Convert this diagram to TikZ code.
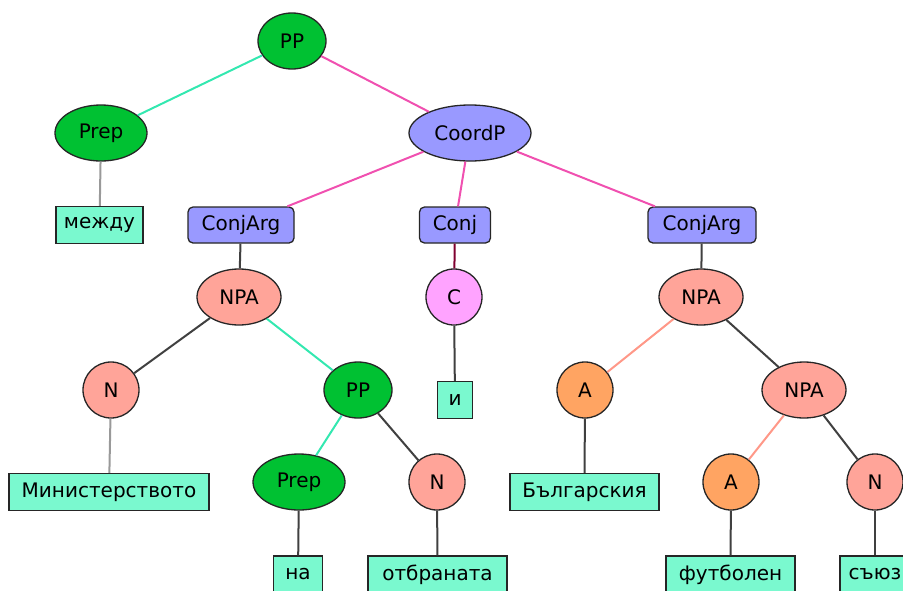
\documentclass[tikz,border=0pt]{standalone}
\usepackage{fontspec}
\setmainfont{DejaVu Sans}
\usetikzlibrary{shapes.geometric}

\definecolor{phrasegreen}{HTML}{00C132}
\definecolor{coordblue}{HTML}{9999FF}
\definecolor{npsalmon}{HTML}{FFA499}
\definecolor{adjorange}{HTML}{FFA462}
\definecolor{conjpink}{HTML}{FFA3FF}
\definecolor{wordaqua}{HTML}{7AF9CF}
\definecolor{edgeaqua}{HTML}{33E8B0}
\definecolor{edgepink}{HTML}{F050B0}
\definecolor{edgesalmon}{HTML}{FF9888}
\definecolor{edgemaroon}{HTML}{800030}

\tikzset{
  cat/.style={draw=black!85, line width=1.3pt, inner sep=0pt, font=\fontsize{20}{24}\selectfont},
  phrase/.style={cat, ellipse, minimum height=56pt},
  head/.style={cat, circle, minimum size=56pt},
  func/.style={cat, rectangle, rounded corners=5pt, fill=coordblue, minimum height=36pt},
  word/.style={cat, rectangle, fill=wordaqua, minimum height=37pt},
  link/.style={line width=2pt},
}

\begin{document}
\begin{tikzpicture}[x=1pt,y=-1pt]
\useasboundingbox (0,0) rectangle (903,590);
\clip (0,0) rectangle (903,590);
% phrase and category nodes
\node[phrase,fill=phrasegreen,minimum width=68pt] (pp) at (292,41) {PP};
\node[phrase,fill=phrasegreen,minimum width=92pt] (prep) at (101,133) {Prep};
\node[phrase,fill=coordblue,minimum width=122pt] (coordp) at (470,133) {CoordP};
\node[func,minimum width=106pt] (argL) at (241,225) {ConjArg};
\node[func,minimum width=71pt] (conj) at (455,225) {Conj};
\node[func,minimum width=108pt] (argR) at (702,225) {ConjArg};
\node[phrase,fill=npsalmon,minimum width=84pt] (npaL) at (239,297) {NPA};
\node[head,fill=conjpink] (c) at (454,297) {C};
\node[phrase,fill=npsalmon,minimum width=84pt] (npaR) at (701,297) {NPA};
\node[head,fill=npsalmon] (nL) at (111,390) {N};
\node[phrase,fill=phrasegreen,minimum width=68pt] (ppL) at (358,390) {PP};
\node[head,fill=adjorange] (aL) at (585,390) {A};
\node[phrase,fill=npsalmon,minimum width=84pt] (npaRR) at (804,390) {NPA};
\node[phrase,fill=phrasegreen,minimum width=92pt] (prepL) at (299,482) {Prep};
\node[head,fill=npsalmon] (nM) at (437,482) {N};
\node[head,fill=adjorange] (aR) at (731,482) {A};
\node[head,fill=npsalmon] (nR) at (875,482) {N};
% word leaves
\node[word,minimum width=87pt] (mezhdu) at (99.5,225) {между};
\node[word,minimum width=35pt] (i) at (455,400) {и};
\node[word,minimum width=200pt] (ministry) at (109,492) {Министерството};
\node[word,minimum width=149pt] (bulg) at (584.5,492) {Българския};
\node[word,minimum width=49pt] (na) at (298,574.5) {на};
\node[word,minimum width=139pt] (otbr) at (437.5,574.5) {отбраната};
\node[word,minimum width=129pt] (futb) at (730.5,574.5) {футболен};
\node[word,minimum width=70pt] (sayuz) at (875,574.5) {съюз};
% branches
\foreach \a/\b/\c in {pp/prep/edgeaqua, pp/coordp/edgepink, prep/mezhdu/black!40,
    coordp/argL/edgepink, coordp/conj/edgepink, coordp/argR/edgepink,
    argL/npaL/black!75, conj/c/edgemaroon, argR/npaR/black!75,
    npaL/nL/black!75, npaL/ppL/edgeaqua, c/i/black!75,
    npaR/aL/edgesalmon, npaR/npaRR/black!75, nL/ministry/black!40,
    ppL/prepL/edgeaqua, ppL/nM/black!75, aL/bulg/black!75,
    npaRR/aR/edgesalmon, npaRR/nR/black!75, prepL/na/black!75,
    nM/otbr/black!75, aR/futb/black!75, nR/sayuz/black!75}
  \draw[link,draw=\c] (\a) -- (\b);
\end{tikzpicture}
\end{document}
